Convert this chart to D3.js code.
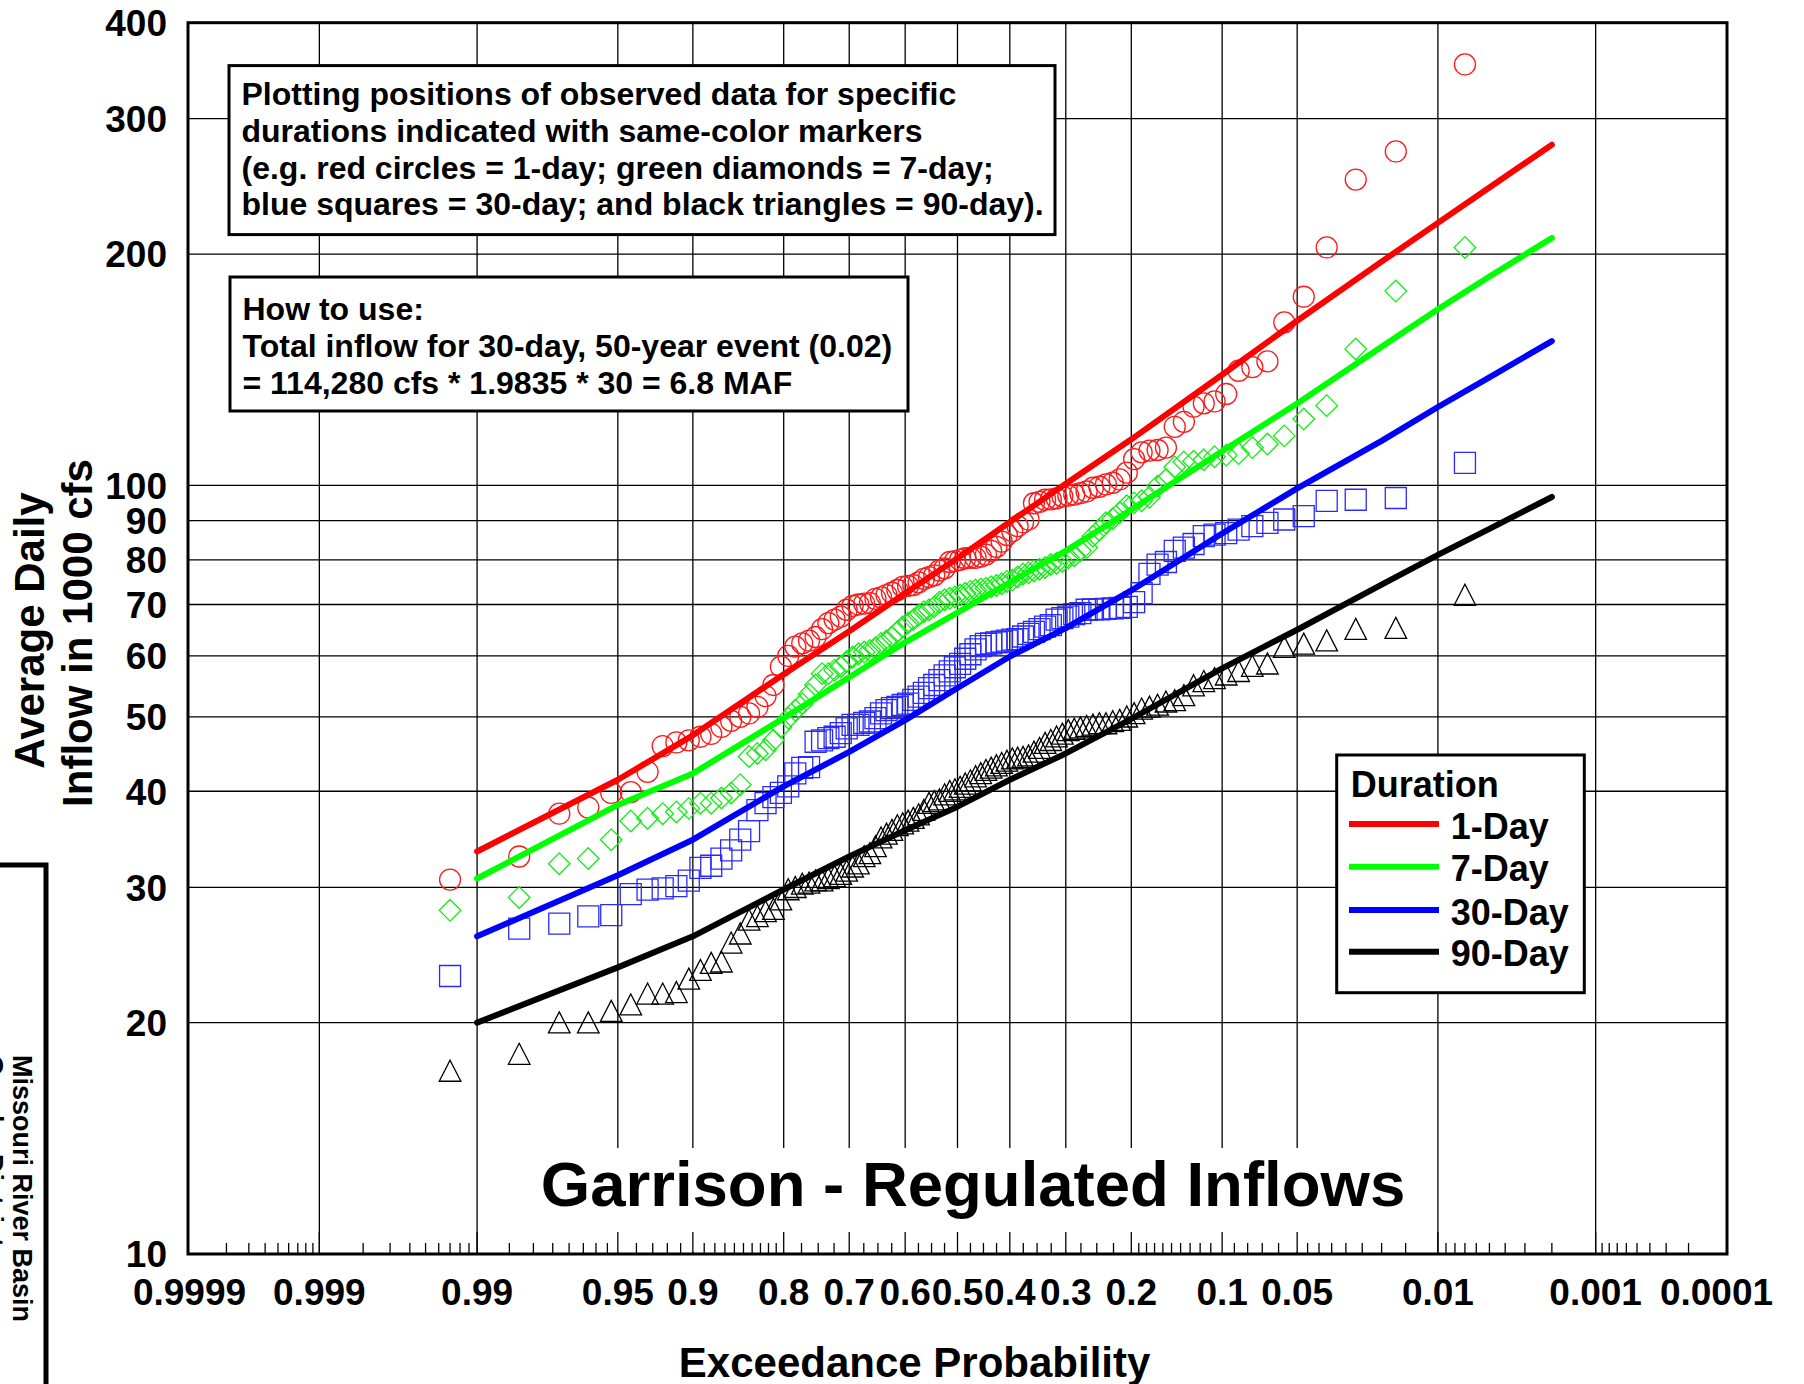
<!DOCTYPE html>
<html>
<head>
<meta charset="utf-8">
<script src="https://cdn.jsdelivr.net/npm/d3@7"></script>
<style>
  html, body { margin: 0; padding: 0; background: #fff; }
  svg { display: block; font-family: "Liberation Sans", Arial, Helvetica, sans-serif; font-weight: bold; }
</style>
</head>
<body>
<svg id="chart" width="1804" height="1384"></svg>
<script>
// Plotting positions (exceedance probability) shared by every duration, rank 1 = largest
const exceedance = [
  0.0070,0.0169,0.0269,0.0369,0.0468,0.0568,0.0667,0.0767,0.0867,0.0966,
  0.1066,0.1165,0.1265,0.1365,0.1464,0.1564,0.1663,0.1763,0.1863,0.1962,
  0.2062,0.2161,0.2261,0.2361,0.2460,0.2560,0.2659,0.2759,0.2859,0.2958,
  0.3058,0.3157,0.3257,0.3357,0.3456,0.3556,0.3655,0.3755,0.3855,0.3954,
  0.4054,0.4153,0.4253,0.4353,0.4452,0.4552,0.4651,0.4751,0.4851,0.4950,
  0.5050,0.5149,0.5249,0.5349,0.5448,0.5548,0.5647,0.5747,0.5847,0.5946,
  0.6046,0.6145,0.6245,0.6345,0.6444,0.6544,0.6643,0.6743,0.6843,0.6942,
  0.7042,0.7141,0.7241,0.7341,0.7440,0.7540,0.7639,0.7739,0.7839,0.7938,
  0.8038,0.8137,0.8237,0.8337,0.8436,0.8536,0.8635,0.8735,0.8835,0.8934,
  0.9034,0.9133,0.9233,0.9333,0.9432,0.9532,0.9631,0.9731,0.9831,0.9930
];

// Observed average daily inflow, 1000 cfs, ranked largest to smallest
const oneDay = [
  353,272,250,204,176,163,145,142.5,141,131.5,
  128.6,127.9,126.6,121,119.2,112,111.2,111,110.4,108.2,
  103.9,101.8,100.8,100.3,99.6,99.3,98.2,97.7,97.3,97,
  96.8,96.2,95.9,95.8,95.2,94.8,90.3,89.5,88.5,87.2,
  86.2,84.5,83.2,82.2,81.3,80.8,80.5,80.5,80.4,80,
  79.7,79.5,78,77.5,76.4,76,75.6,74.8,74.2,74,
  73.8,73.1,72.5,72,71.5,71.2,70.3,70.2,70,69.7,
  68.9,67.5,66.9,66.2,65,63.5,62.8,62.3,61.7,60,
  58.1,55,53.2,51.5,50.5,50,49.4,48.5,47.5,47.1,
  46.6,46.3,45.8,42.4,39.9,39.8,38.1,37.4,32.9,30.7
];
const sevenDay = [
  204,179,150.5,127,122,116,113.2,112,110,109.5,
  109,108,107.5,107.3,105.7,101.8,99.8,96.5,95.5,94.9,
  94.1,92.2,90.5,89.4,87.5,85.9,83,82.2,81,80.5,
  79.7,79.2,78.9,78.2,77.8,77.4,77,76.7,76,75.3,
  75,74.5,74.1,73.8,73.5,73.3,73.1,72.8,72.4,72,
  71.6,71.3,71,70.5,69.5,68.9,68.5,67.8,66.9,66.2,
  65.5,64.5,63.5,62.8,62.3,61.5,61,60.7,60.4,59.8,
  59,58.1,57.5,56.9,56.9,55,53.5,52,51,49.8,
  48.5,46.6,45.3,44.8,44.4,40.8,39.8,39.2,38.6,38.6,
  38,37.6,37.4,36.9,36.6,34.6,32.7,32.2,29.1,28
];
const thirtyDay = [
  107,96.3,95.8,95.5,91.2,90.3,89.4,88.5,87.6,86.7,
  86.3,85.9,83.9,83,82.2,79.5,78.9,76.7,72.4,70.5,
  69.5,69.3,69.2,69.1,69,69,68.9,68.2,68,67.5,
  67.2,66.9,65.8,65.5,65,64.5,64.1,63.6,63.1,63,
  62.8,62.6,62.5,62.3,62.2,61.8,61.2,60.3,59.5,58.6,
  58,57.3,56.6,55.8,55,54.5,53.7,53.1,52.6,52,
  51.8,51.5,51.3,51,50.5,49.8,49.3,49.1,48.8,48.8,
  48.3,47.6,47.1,46.9,46.6,46.4,43,42.9,42.2,40.6,
  39.8,39.3,38.6,37.8,35.5,34.6,33.5,32.7,32,31.8,
  30.6,30.1,29.9,29.8,29.4,27.6,27.5,26.9,26.5,23
];
const ninetyDay = [
  72,65.2,65,62.8,62.2,61.6,58.6,58.2,57.3,56.7,
  56.1,55.6,54.9,53.3,52.5,52.3,51.8,51.5,51.2,50.5,
  50,49.5,49.3,49,49,48.8,48.6,48.4,48.2,48,
  47.5,47.1,46.6,46.2,45.5,45,44.5,44.3,44.2,44.1,
  43.8,43.5,43.2,42.9,42.6,42.2,41.8,41.3,40.9,40.5,
  40.2,40,39.6,39,38.8,38.6,37.8,37.3,36.9,36.6,
  36.3,36.1,35.6,35.2,34.8,33.9,33.2,32.9,32.2,31.9,
  31.5,31.2,31,30.8,30.6,30.6,30.4,30.3,30,29.8,
  28.9,28.1,27.9,27.5,27.2,26.1,25.4,24,23.9,23.4,
  22.8,21.9,21.8,21.8,21.1,20.7,20,20,18.2,17.3
];

// Fitted frequency curves
const fitProb = [0.99,0.95,0.9,0.8,0.7,0.6,0.5,0.4,0.3,0.2,0.1,0.05,0.02,0.01,0.005,0.002];
const fit1  = [33.4,41.4,47.3,56.8,64.6,72.4,80.4,89.6,100.5,114.8,139.3,163.8,195.5,219.6,244.2,277.5];
const fit7  = [30.8,38.4,42.2,49.8,56.3,62.5,68.3,74.8,82.2,93.0,110.8,127.8,151.5,169.5,187.0,209.9];
const fit30 = [25.9,31.1,34.6,40.6,45.0,49.5,54.5,59.9,65.2,73.0,86.6,99.1,114.28,126.5,138.2,154.1];
const fit90 = [20.0,23.6,25.9,29.8,32.9,35.6,38.2,41.4,44.8,49.7,57.8,64.9,74.3,81.2,87.8,96.6];

const durations = ["1-Day","7-Day","30-Day","90-Day"];
const durationColors = ["#ff0000","#00ff00","#0000ff","#000000"];

// Axis ticks
const probTicks  = [0.9999,0.999,0.99,0.95,0.9,0.8,0.7,0.6,0.5,0.4,0.3,0.2,0.1,0.05,0.01,0.001,0.0001];
const probLabels = ["0.9999","0.999","0.99","0.95","0.9","0.8","0.7","0.6","0.5","0.4","0.3","0.2","0.1","0.05","0.01","0.001","0.0001"];
const probMinor = [
  0.9998,0.9997,0.9996,0.9995,0.9994,0.9993,0.9992,0.9991,
  0.998,0.997,0.996,0.995,0.994,0.993,0.992,0.991,
  0.985,0.98,0.975,0.97,0.965,0.96,0.955,
  0.94,0.93,0.92,0.91,
  0.89,0.88,0.87,0.86,0.85,0.84,0.83,0.82,0.81,
  0.775,0.75,0.725,0.675,0.65,0.625,0.575,0.55,0.525,
  0.475,0.45,0.425,0.375,0.35,0.325,0.275,0.25,0.225,
  0.19,0.18,0.17,0.16,0.15,0.14,0.13,0.12,0.11,
  0.09,0.08,0.07,0.06,
  0.045,0.04,0.035,0.03,0.025,0.02,0.015,
  0.009,0.008,0.007,0.006,0.005,0.004,0.003,0.002,
  0.0009,0.0008,0.0007,0.0006,0.0005,0.0004,0.0003,0.0002
];
const flowTicks = [10,20,30,40,50,60,70,80,90,100,200,300,400];

const noteLines = [
  "Plotting positions of observed data for specific",
  "durations indicated with same-color markers",
  "(e.g. red circles = 1-day; green diamonds = 7-day;",
  "blue squares = 30-day; and black triangles = 90-day)."
];
const howToLines = [
  "How to use:",
  "Total inflow for 30-day, 50-year event (0.02)",
  "= 114,280 cfs * 1.9835 * 30 = 6.8 MAF"
];

// Inverse standard normal CDF (Acklam's rational approximation)
function probit(p) {
  const a = [-3.969683028665376e+01, 2.209460984245205e+02, -2.759285104469687e+02, 1.383577518672690e+02, -3.066479806614716e+01, 2.506628277459239e+00];
  const b = [-5.447609879822406e+01, 1.615858368580409e+02, -1.556989798598866e+02, 6.680131188771972e+01, -1.328068155288572e+01];
  const c = [-7.784894002430293e-03, -3.223964580411365e-01, -2.400758277161838e+00, -2.549732539343734e+00, 4.374664141464968e+00, 2.938163982698783e+00];
  const d = [7.784695709041462e-03, 3.224671290700398e-01, 2.445134137142996e+00, 3.754408661907416e+00];
  const lo = 0.02425, hi = 1 - lo;
  let q, r;
  if (p < lo) {
    q = Math.sqrt(-2 * Math.log(p));
    return (((((c[0]*q+c[1])*q+c[2])*q+c[3])*q+c[4])*q+c[5]) / ((((d[0]*q+d[1])*q+d[2])*q+d[3])*q+1);
  }
  if (p > hi) {
    q = Math.sqrt(-2 * Math.log(1 - p));
    return -(((((c[0]*q+c[1])*q+c[2])*q+c[3])*q+c[4])*q+c[5]) / ((((d[0]*q+d[1])*q+d[2])*q+d[3])*q+1);
  }
  q = p - 0.5; r = q * q;
  return (((((a[0]*r+a[1])*r+a[2])*r+a[3])*r+a[4])*r+a[5])*q / (((((b[0]*r+b[1])*r+b[2])*r+b[3])*r+b[4])*r+1);
}

// ---- layout ----
const W = 1804, H = 1384;
const plot = { left: 188, right: 1727, top: 22.7, bottom: 1254 };

const svg = d3.select("#chart");
svg.append("rect").attr("width", W).attr("height", H).attr("fill", "#fff");

// Normal-probability x scale: linear in the standard normal deviate of (1 - exceedance)
const zScale = d3.scaleLinear()
  .domain([probit(1 - 0.9999), probit(1 - 0.0001)])
  .range([189.5, 1725.5]);
const x = p => zScale(probit(1 - p));
const y = d3.scaleLog().domain([10, 400]).range([plot.bottom, plot.top]);

// ---- grid ----
const grid = svg.append("g").attr("stroke", "#000").attr("stroke-width", 1.3);
grid.selectAll("line.v").data(probTicks.slice(1, -1)).join("line")
  .attr("x1", d => x(d)).attr("x2", d => x(d))
  .attr("y1", plot.top).attr("y2", plot.bottom);
grid.selectAll("line.h").data(flowTicks.slice(1, -1)).join("line")
  .attr("x1", plot.left).attr("x2", plot.right)
  .attr("y1", d => y(d)).attr("y2", d => y(d));

// ---- title panel (white backing hides the grid behind it) ----
svg.append("rect")
  .attr("x", 528).attr("y", 1148).attr("width", 895).attr("height", 104)
  .attr("fill", "#fff");

// ---- bottom axis ticks ----
const ticks = svg.append("g").attr("stroke", "#000").attr("stroke-width", 1.3);
ticks.selectAll("line.minor").data(probMinor).join("line")
  .attr("x1", d => x(d)).attr("x2", d => x(d))
  .attr("y1", plot.bottom).attr("y2", plot.bottom - 11);
ticks.selectAll("line.major").data(probTicks.slice(1, -1)).join("line")
  .attr("x1", d => x(d)).attr("x2", d => x(d))
  .attr("y1", plot.bottom).attr("y2", plot.bottom - 22);

// ---- annotation boxes ----
function noteBox(x0, y0, w, h, lines, baseline0) {
  svg.append("rect").attr("x", x0).attr("y", y0).attr("width", w).attr("height", h)
    .attr("fill", "#fff").attr("stroke", "#000").attr("stroke-width", 3);
  svg.append("g").selectAll("text").data(lines).join("text")
    .attr("x", x0 + 12.5).attr("y", (d, i) => baseline0 + i * 36.8)
    .attr("font-size", 32).attr("fill", "#000").text(d => d);
}
noteBox(229, 65.6, 826, 169, noteLines, 105);
noteBox(230, 277, 678, 134, howToLines, 320);

// ---- observed markers ----
const markerStroke = 1.3;
function symbolPath(kind) {
  if (kind === "diamond") return "M0,-10.8L10.8,0L0,10.8L-10.8,0Z";
  if (kind === "square") return "M-10.5,-10.5H10.5V10.5H-10.5Z";
  return "M0,-10.8L10.8,10.2H-10.8Z";
}
const obs = svg.append("g").attr("fill", "none").attr("stroke-width", markerStroke);
obs.append("g").attr("stroke", "#ff1a1a").selectAll("circle")
  .data(oneDay).join("circle")
  .attr("cx", (d, i) => x(exceedance[i])).attr("cy", d => y(d)).attr("r", 10.5);
[[sevenDay, "diamond", "#12ee12"], [thirtyDay, "square", "#2a2aff"], [ninetyDay, "triangle", "#000"]]
  .forEach(([vals, kind, col]) => {
    obs.append("g").attr("stroke", col).selectAll("path")
      .data(vals).join("path")
      .attr("transform", (d, i) => `translate(${x(exceedance[i])},${y(d)})`)
      .attr("d", symbolPath(kind));
  });

// ---- fitted curves ----
const fitLine = d3.line().x((d, i) => x(fitProb[i])).y(d => y(d));
[fit1, fit7, fit30, fit90].forEach((vals, k) => {
  svg.append("path").datum(vals)
    .attr("d", fitLine)
    .attr("fill", "none").attr("stroke", durationColors[k])
    .attr("stroke-width", 6).attr("stroke-linecap", "round").attr("stroke-linejoin", "round");
});

// ---- plot frame ----
svg.append("rect")
  .attr("x", plot.left).attr("y", plot.top)
  .attr("width", plot.right - plot.left).attr("height", plot.bottom - plot.top)
  .attr("fill", "none").attr("stroke", "#000").attr("stroke-width", 3);

// ---- tick labels ----
svg.append("g").selectAll("text").data(flowTicks).join("text")
  .attr("x", 167).attr("y", d => y(d)).attr("dy", "0.36em")
  .attr("text-anchor", "end").attr("font-size", 37).text(d => d);

const labelX = probTicks.map(p => x(p));
labelX[labelX.length - 1] -= 9;
svg.append("g").selectAll("text").data(probLabels).join("text")
  .attr("x", (d, i) => labelX[i]).attr("y", 1305)
  .attr("text-anchor", "middle").attr("font-size", 37).text(d => d);

// ---- axis titles & chart title ----
svg.append("text").attr("x", 914.6).attr("y", 1377)
  .attr("text-anchor", "middle").attr("font-size", 42).text("Exceedance Probability");
svg.append("text").attr("transform", "translate(44,630.5) rotate(-90)")
  .attr("text-anchor", "middle").attr("font-size", 42).text("Average Daily");
svg.append("text").attr("transform", "translate(92,633) rotate(-90)")
  .attr("text-anchor", "middle").attr("font-size", 42).text("Inflow in 1000 cfs");
svg.append("text").attr("x", 973).attr("y", 1206)
  .attr("text-anchor", "middle").attr("font-size", 63.5).text("Garrison - Regulated Inflows");

// ---- legend ----
const lg = svg.append("g");
lg.append("rect").attr("x", 1336.7).attr("y", 755).attr("width", 247.6).attr("height", 237.7)
  .attr("fill", "#fff").attr("stroke", "#000").attr("stroke-width", 3);
lg.append("text").attr("x", 1350.7).attr("y", 796.7).attr("font-size", 36).text("Duration");
const legendY = [824, 866.7, 910, 951.7];
lg.selectAll("line.key").data(durations).join("line")
  .attr("x1", 1349).attr("x2", 1439)
  .attr("y1", (d, i) => legendY[i]).attr("y2", (d, i) => legendY[i])
  .attr("stroke", (d, i) => durationColors[i]).attr("stroke-width", 6);
lg.selectAll("text.key").data(durations).join("text")
  .attr("x", 1450.7).attr("y", (d, i) => legendY[i] + 14.5)
  .attr("font-size", 36).text(d => d);

// ---- side title block ----
svg.append("path").attr("d", "M0,865H46V1384")
  .attr("fill", "none").attr("stroke", "#000").attr("stroke-width", 5);
svg.append("text").attr("transform", "translate(13,1055) rotate(90)")
  .attr("font-size", 27).text("Missouri River Basin");
svg.append("text").attr("transform", "translate(-16,1055) rotate(90)")
  .attr("font-size", 27).text("Omaha District");
</script>
</body>
</html>
